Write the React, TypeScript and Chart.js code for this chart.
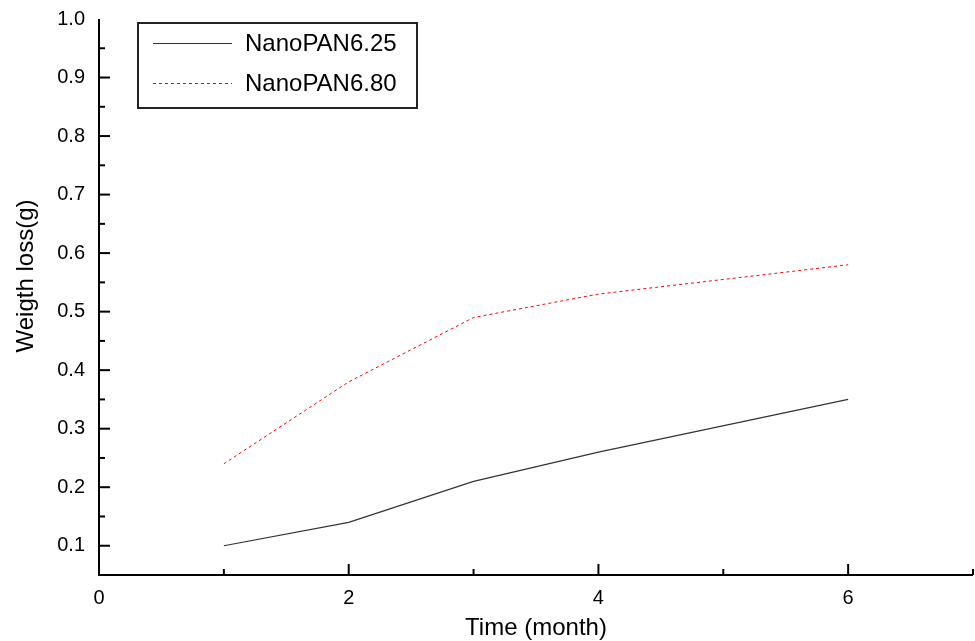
import React, { useEffect, useRef } from "react";
import { Chart, registerables } from "chart.js";

Chart.register(...registerables);

const months = [1, 2, 3, 4, 6];
const nano625 = [0.10, 0.14, 0.21, 0.26, 0.35];
const nano680 = [0.24, 0.38, 0.49, 0.53, 0.58];
const seriesLabels = ["NanoPAN6.25", "NanoPAN6.80"];
const xTitle = "Time (month)";
const yTitle = "Weigth loss(g)";

const FONT = "'Liberation Sans', Arial, sans-serif";

const axisPlugin = {
  id: "axisPlugin",
  afterDraw(chart: any) {
    const ctx = chart.ctx;
    const { left, right, top, bottom } = chart.chartArea;
    const xs = chart.scales.x;
    const ys = chart.scales.y;
    ctx.save();
    ctx.strokeStyle = "#000";
    ctx.lineWidth = 2;
    ctx.beginPath();
    ctx.moveTo(left, top);
    ctx.lineTo(left, bottom);
    ctx.lineTo(right, bottom);
    ctx.stroke();
    for (let i = 1; i <= 19; i++) {
      const v = 0.05 * i;
      const y = ys.getPixelForValue(v);
      const major = i % 2 === 0;
      ctx.beginPath();
      ctx.moveTo(left, y);
      ctx.lineTo(left + (major ? 11 : 6), y);
      ctx.stroke();
    }
    for (let i = 1; i <= 7; i++) {
      const x = xs.getPixelForValue(i);
      const major = i % 2 === 0;
      ctx.beginPath();
      ctx.moveTo(x, bottom);
      ctx.lineTo(x, bottom - (major ? 11 : 6));
      ctx.stroke();
    }
    // axis titles
    ctx.fillStyle = "#000";
    ctx.font = `24px ${FONT}`;
    ctx.textAlign = "center";
    ctx.textBaseline = "middle";
    ctx.fillText(xTitle, (left + right) / 2, 628);
    ctx.save();
    ctx.translate(26, 276);
    ctx.rotate(-Math.PI / 2);
    ctx.fillText(yTitle, 0, 0);
    ctx.restore();
    // legend
    ctx.textAlign = "left";
    ctx.lineWidth = 2;
    ctx.strokeStyle = "#222";
    ctx.strokeRect(138, 23, 279, 85);
    chart.data.datasets.forEach((ds: any, i: number) => {
      const y = 43 + i * 40;
      ctx.beginPath();
      ctx.lineWidth = 1;
      ctx.strokeStyle = ds.borderColor;
      ctx.setLineDash(ds.borderDash || []);
      ctx.moveTo(153, y + 0.5);
      ctx.lineTo(232, y + 0.5);
      ctx.stroke();
      ctx.setLineDash([]);
      ctx.fillText(ds.label, 245, y + 1);
    });
    ctx.restore();
  },
};

export default function App() {
  const ref = useRef<HTMLCanvasElement>(null);
  useEffect(() => {
    document.body.style.margin = "0";
    const chart = new Chart(ref.current!, {
      type: "line",
      data: {
        datasets: [
          {
            label: seriesLabels[0],
            data: months.map((m, i) => ({ x: m, y: nano625[i] })),
            borderColor: "#333",
            borderWidth: 1.2,
            pointRadius: 0,
            fill: false,
          },
          {
            label: seriesLabels[1],
            data: months.map((m, i) => ({ x: m, y: nano680[i] })),
            borderColor: "#ff0000",
            borderWidth: 1,
            borderDash: [3, 3],
            pointRadius: 0,
            fill: false,
          },
        ],
      },
      options: {
        animation: false,
        responsive: false,
        layout: { padding: { top: 19, right: 2, left: 0, bottom: 0 } },
        plugins: { legend: { display: false }, tooltip: { enabled: false } },
        scales: {
          x: {
            type: "linear",
            min: 0,
            max: 7,
            border: { display: false },
            grid: { display: false, drawTicks: false },
            ticks: {
              stepSize: 1,
              padding: 11,
              color: "#000",
              font: { family: FONT, size: 20 },
              callback: (v: any) => (Number(v) % 2 === 0 ? String(v) : ""),
              maxRotation: 0,
              autoSkip: false,
            },
            afterFit: (s: any) => {
              s.height = 66;
              s.paddingLeft = 0;
              s.paddingRight = 0;
            },
          },
          y: {
            type: "linear",
            min: 0.05,
            max: 1.0,
            border: { display: false },
            grid: { display: false, drawTicks: false },
            ticks: {
              stepSize: 0.05,
              padding: 14,
              color: "#000",
              font: { family: FONT, size: 20 },
              autoSkip: false,
              callback: (v: any) => {
                const n = Math.round(Number(v) * 100);
                return n % 10 === 0 ? (n / 100).toFixed(1) : "";
              },
            },
            afterFit: (s: any) => {
              s.width = 99;
              s.paddingTop = 0;
              s.paddingBottom = 0;
            },
          },
        },
      },
      plugins: [axisPlugin],
    });
    return () => chart.destroy();
  }, []);
  return (
    <div style={{ position: "absolute", left: 0, top: 0, width: 975, height: 641, background: "#fff" }}>
      <canvas ref={ref} width={975} height={641} />
    </div>
  );
}
